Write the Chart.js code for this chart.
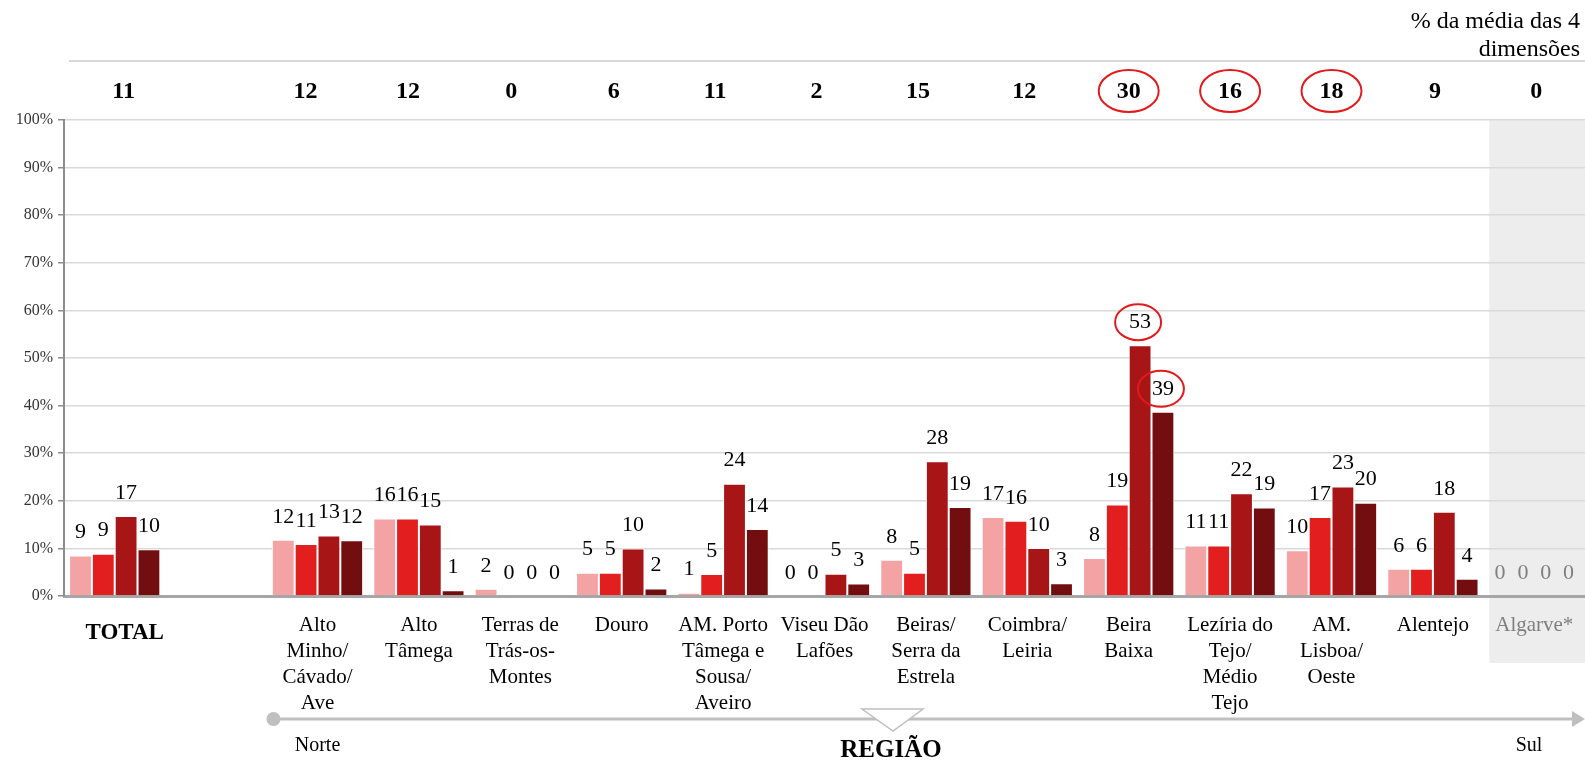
<!DOCTYPE html>
<html>
<head>
<meta charset="utf-8">
<script src="https://cdn.jsdelivr.net/npm/chart.js@4/dist/chart.umd.min.js"></script>
<style>
  html, body { margin: 0; padding: 0; background: #ffffff; }
  canvas { display: block; }
</style>
</head>
<body>
<canvas id="grafico" width="1585" height="760"></canvas>
<script>
// Regiões (linhas de cada rótulo do eixo); a 2.ª posição é um espaço vazio
const categories = [
  ['TOTAL'], [''],
  ['Alto', 'Minho/', 'Cávado/', 'Ave'],
  ['Alto', 'Tâmega'],
  ['Terras de', 'Trás-os-', 'Montes'],
  ['Douro'],
  ['AM. Porto', 'Tâmega e', 'Sousa/', 'Aveiro'],
  ['Viseu Dão', 'Lafões'],
  ['Beiras/', 'Serra da', 'Estrela'],
  ['Coimbra/', 'Leiria'],
  ['Beira', 'Baixa'],
  ['Lezíria do', 'Tejo/', 'Médio', 'Tejo'],
  ['AM.', 'Lisboa/', 'Oeste'],
  ['Alentejo'],
  ['Algarve*']
];

// Quatro dimensões (%)
const dimensao1 = [8.5, null, 11.8, 16.3, 1.5, 4.9, 0.7, 0, 7.6, 16.6, 8.0, 10.6, 9.6, 5.7, 0];
const dimensao2 = [8.9, null, 10.9, 16.3, 0, 4.9, 4.6, 0, 4.9, 15.8, 19.2, 10.6, 16.6, 5.7, 0];
const dimensao3 = [16.8, null, 12.7, 15.0, 0, 10.0, 23.6, 4.7, 28.3, 10.1, 52.7, 21.6, 23.0, 17.7, 0];
const dimensao4 = [9.8, null, 11.7, 1.2, 0, 1.6, 14.1, 2.6, 18.7, 2.7, 38.7, 18.6, 19.6, 3.6, 0];

// % da média das 4 dimensões (linha superior)
const mediaDimensoes = ['11', '', '12', '12', '0', '6', '11', '2', '15', '12', '30', '16', '18', '9', '0'];
const mediaDestacada = [10, 11, 12];

// Valores destacados nas barras: [série, região]
const barrasDestacadas = [[2, 10], [3, 10]];

const yTickValues = [0, 10, 20, 30, 40, 50, 60, 70, 80, 90, 100];

const coresSeries = ['#f4a3a4', '#e21e1f', '#a81517', '#720e10'];
const SERIF = '"Liberation Serif", "DejaVu Serif", serif';
const INDICE_ALGARVE = 14;

// Pequenos desvios horizontais das caixas de texto da linha superior
const desvioMedia = [9, 0, -12, -11, -9, -8, -8, -8, -8, -3, 0, 0, 0, 2, 2];

const decoracao = {
  id: 'decoracao',
  beforeDraw(chart) {
    const { ctx, scales: { x }, chartArea } = chart;
    // Faixa cinzenta do Algarve
    const cx = x.getPixelForValue(INDICE_ALGARVE);
    ctx.save();
    ctx.fillStyle = '#ededed';
    ctx.fillRect(cx - 45, chartArea.top - 1, chartArea.right - (cx - 45), 663 - chartArea.top + 1);
    ctx.restore();
  },
  afterDatasetsDraw(chart) {
    const { ctx, scales: { y } } = chart;
    ctx.save();
    ctx.font = '22px ' + SERIF;
    ctx.textAlign = 'center';
    ctx.textBaseline = 'middle';
    chart.data.datasets.forEach((ds, di) => {
      const meta = chart.getDatasetMeta(di);
      meta.data.forEach((bar, i) => {
        const v = ds.data[i];
        if (v === null || v === undefined) return;
        const ly = y.getPixelForValue(v) - 23;
        ctx.fillStyle = i === INDICE_ALGARVE ? '#7f7f7f' : '#000000';
        ctx.fillText(String(Math.round(v)), bar.x, ly);
        if (barrasDestacadas.some(([s, r]) => s === di && r === i)) {
          ctx.strokeStyle = '#e3191c';
          ctx.lineWidth = 2;
          ctx.beginPath();
          ctx.ellipse(bar.x - 2, ly, 23, 18, 0, 0, Math.PI * 2);
          ctx.stroke();
        }
      });
    });
    ctx.restore();
  },
  afterDraw(chart) {
    const { ctx, scales: { x }, chartArea } = chart;
    ctx.save();

    // Linha superior e cabeçalho
    ctx.strokeStyle = '#d9d9d9';
    ctx.lineWidth = 2;
    ctx.beginPath();
    ctx.moveTo(69, 61);
    ctx.lineTo(chartArea.right, 61);
    ctx.stroke();

    ctx.fillStyle = '#000000';
    ctx.font = '24px ' + SERIF;
    ctx.textAlign = 'right';
    ctx.textBaseline = 'middle';
    ctx.fillText('% da média das 4', 1580, 22);
    ctx.fillText('dimensões', 1580, 50);

    // Médias das 4 dimensões
    ctx.font = 'bold 24px ' + SERIF;
    ctx.textAlign = 'center';
    mediaDimensoes.forEach((t, i) => {
      if (!t) return;
      const px = x.getPixelForValue(i) + desvioMedia[i];
      ctx.fillStyle = '#000000';
      ctx.fillText(t, px, 92);
      if (mediaDestacada.includes(i)) {
        ctx.strokeStyle = '#e3191c';
        ctx.lineWidth = 2;
        ctx.beginPath();
        ctx.ellipse(px, 91, 30, 21, 0, 0, Math.PI * 2);
        ctx.stroke();
      }
    });

    // Rótulo TOTAL (caixa de texto própria, a negrito)
    ctx.font = 'bold 23px ' + SERIF;
    ctx.fillText('TOTAL', x.getPixelForValue(0) + 10, 633);

    // Seta Norte -> Sul
    const ay = 719;
    const ax0 = x.getPixelForValue(2) - 44;
    ctx.strokeStyle = '#bfbfbf';
    ctx.fillStyle = '#bfbfbf';
    ctx.lineWidth = 3;
    ctx.beginPath();
    ctx.moveTo(ax0, ay);
    ctx.lineTo(chartArea.right - 10, ay);
    ctx.stroke();
    ctx.beginPath();
    ctx.arc(ax0, ay, 7, 0, Math.PI * 2);
    ctx.fill();
    ctx.beginPath();
    ctx.moveTo(chartArea.right, ay);
    ctx.lineTo(chartArea.right - 13, ay - 8);
    ctx.lineTo(chartArea.right - 13, ay + 8);
    ctx.closePath();
    ctx.fill();

    // Triângulo indicador
    ctx.fillStyle = '#ffffff';
    ctx.strokeStyle = '#bfbfbf';
    ctx.lineWidth = 1.5;
    ctx.beginPath();
    ctx.moveTo(862, 709);
    ctx.lineTo(923, 709);
    ctx.lineTo(893, 731);
    ctx.closePath();
    ctx.fill();
    ctx.stroke();

    ctx.fillStyle = '#000000';
    ctx.font = '20px ' + SERIF;
    ctx.textAlign = 'center';
    ctx.fillText('Norte', x.getPixelForValue(2), 746);
    ctx.fillText('Sul', 1529, 746);
    ctx.font = 'bold 25px ' + SERIF;
    ctx.fillText('REGIÃO', 891, 751);

    ctx.restore();
  }
};

const serie = (data, i) => ({
  data,
  backgroundColor: coresSeries[i],
  borderColor: '#ffffff',
  borderWidth: 1,
  barPercentage: 1,
  categoryPercentage: 0.9
});

new Chart(document.getElementById('grafico'), {
  type: 'bar',
  data: {
    labels: categories,
    datasets: [dimensao1, dimensao2, dimensao3, dimensao4].map(serie)
  },
  options: {
    responsive: false,
    animation: false,
    devicePixelRatio: 1,
    layout: { padding: { top: 120, left: 0, right: 0, bottom: 0 } },
    plugins: { legend: { display: false }, tooltip: { enabled: false } },
    scales: {
      x: {
        grid: { display: false },
        border: { color: '#a6a6a6', width: 3 },
        afterFit(scale) { scale.height = 164; },
        ticks: {
          autoSkip: false,
          maxRotation: 0,
          minRotation: 0,
          padding: 8,
          // TOTAL é desenhado à parte
          callback(value, index) { return index === 0 ? '' : this.getLabelForValue(value); },
          color: (c) => c.index === INDICE_ALGARVE ? '#7f7f7f' : '#000000',
          font: { family: SERIF, size: 21, weight: 'normal', lineHeight: 26 / 21 }
        }
      },
      y: {
        min: 0,
        max: 100,
        afterFit(scale) { scale.width = 64; },
        afterBuildTicks(scale) { scale.ticks = yTickValues.map(v => ({ value: v })); },
        grid: { color: '#d9d9d9', lineWidth: 1.5, tickLength: 6, tickColor: '#8c8c8c' },
        border: { color: '#8c8c8c', width: 2 },
        ticks: {
          padding: 5,
          color: '#333333',
          font: { family: SERIF, size: 16 },
          callback: (v) => v + '%'
        }
      }
    }
  },
  plugins: [decoracao]
});
</script>
</body>
</html>
